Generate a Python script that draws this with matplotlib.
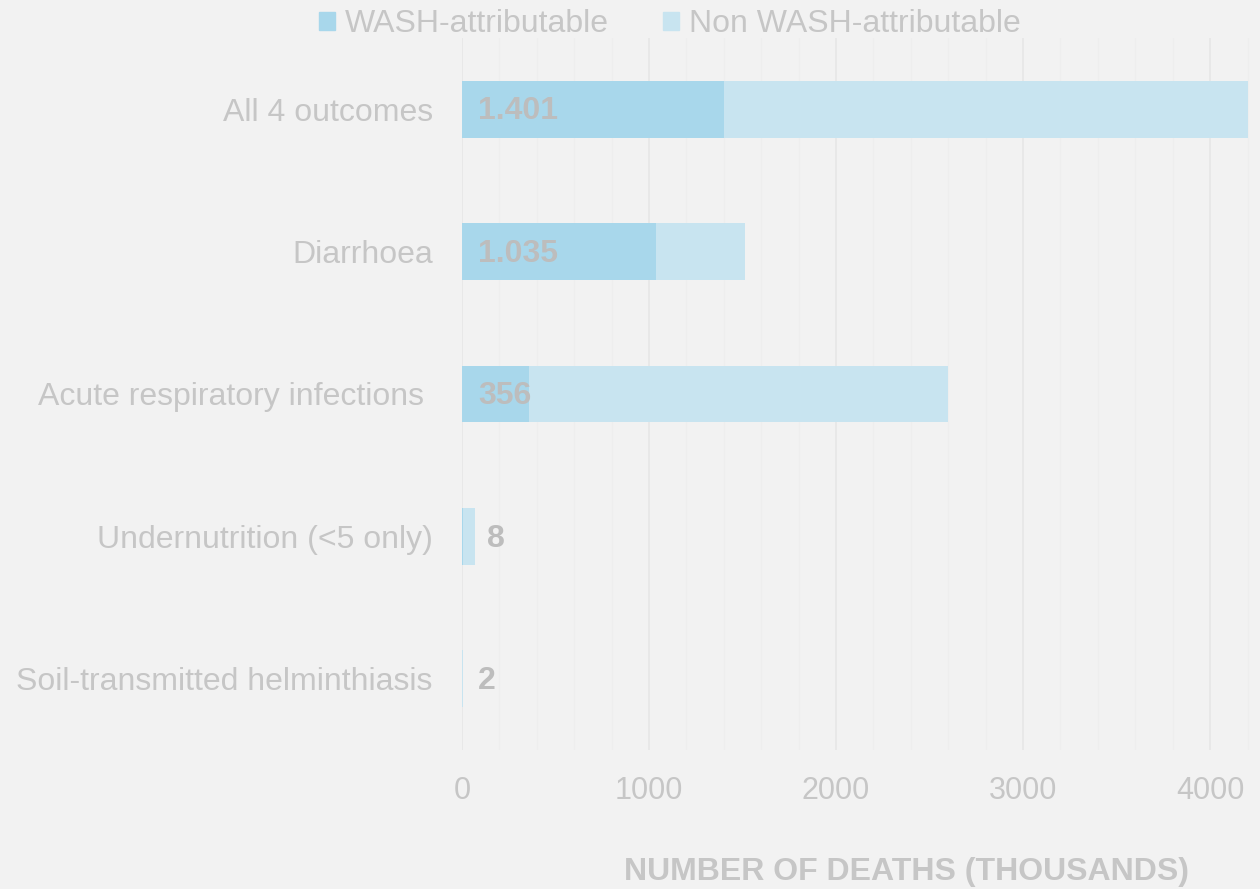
import matplotlib
matplotlib.use("Agg")
import matplotlib.pyplot as plt
from matplotlib.patches import Patch
from matplotlib.ticker import MultipleLocator

plt.rcParams["font.family"] = ["Liberation Sans", "DejaVu Sans"]

categories = [
    "All 4 outcomes",
    "Diarrhoea",
    "Acute respiratory infections ",
    "Undernutrition (<5 only)",
    "Soil-transmitted helminthiasis",
]
wash = [1401, 1035, 356, 8, 2]
non_wash = [2799, 478, 2243, 62, 3]
value_labels = ["1.401", "1.035", "356", "8", "2"]

BG = "#f2f2f2"
C_WASH = "#a8d7eb"
C_NON = "#c8e4f0"
TXT = "#c6c6c6"
VAL = "#bdbdbd"

fig = plt.figure(figsize=(12.6, 8.89), dpi=100, facecolor=BG)
ax = fig.add_axes([462 / 1260, 1 - 750 / 889, (1255 - 462) / 1260, (750 - 38) / 889])
ax.set_facecolor(BG)

y = list(range(len(categories)))
ax.barh(y, wash, height=0.4, color=C_WASH, zorder=3)
ax.barh(y, non_wash, left=wash, height=0.4, color=C_NON, zorder=3)

# value labels: inside the bar for the big ones, just after it for the small ones
for i, lab in enumerate(value_labels):
    total = wash[i] + non_wash[i]
    x = 86 if total > 200 else max(86, total + 64)
    ax.text(x, i + 0.015, lab, ha="left", va="center", fontsize=23, fontweight="bold",
            color=VAL, zorder=4)

ax.set_xlim(0, 4240)
ax.set_ylim(len(categories) - 0.5, -0.5)
ax.set_yticks(y)
ax.set_yticklabels(categories, fontsize=23, color=TXT)
ax.xaxis.set_major_locator(MultipleLocator(1000))
ax.xaxis.set_minor_locator(MultipleLocator(200))
ax.tick_params(axis="x", which="both", length=0, labelsize=22, labelcolor=TXT, pad=19)
ax.tick_params(axis="y", length=0, pad=21)
ax.grid(axis="x", which="major", color="#e7e7e7", linewidth=1.2, zorder=0)
ax.grid(axis="x", which="minor", color="#eeeeee", linewidth=0.8, zorder=0)
for s in ax.spines.values():
    s.set_visible(False)

fig.text(907 / 1260, 1 - 872 / 889, "NUMBER OF DEATHS (THOUSANDS)", ha="center",
         va="center", fontsize=23, fontweight="bold", color=TXT)

handles = [Patch(color=C_WASH, label="WASH-attributable"),
           Patch(color=C_NON, label="Non WASH-attributable")]
fig.legend(handles=handles, loc="center", bbox_to_anchor=(670 / 1260, 1 - 24 / 889),
           ncol=2, frameon=False, fontsize=23, labelcolor=TXT, handlelength=0.5,
           handleheight=0.5, handletextpad=0.3, columnspacing=1.7)

fig.savefig("out.png", dpi=100, facecolor=BG)
